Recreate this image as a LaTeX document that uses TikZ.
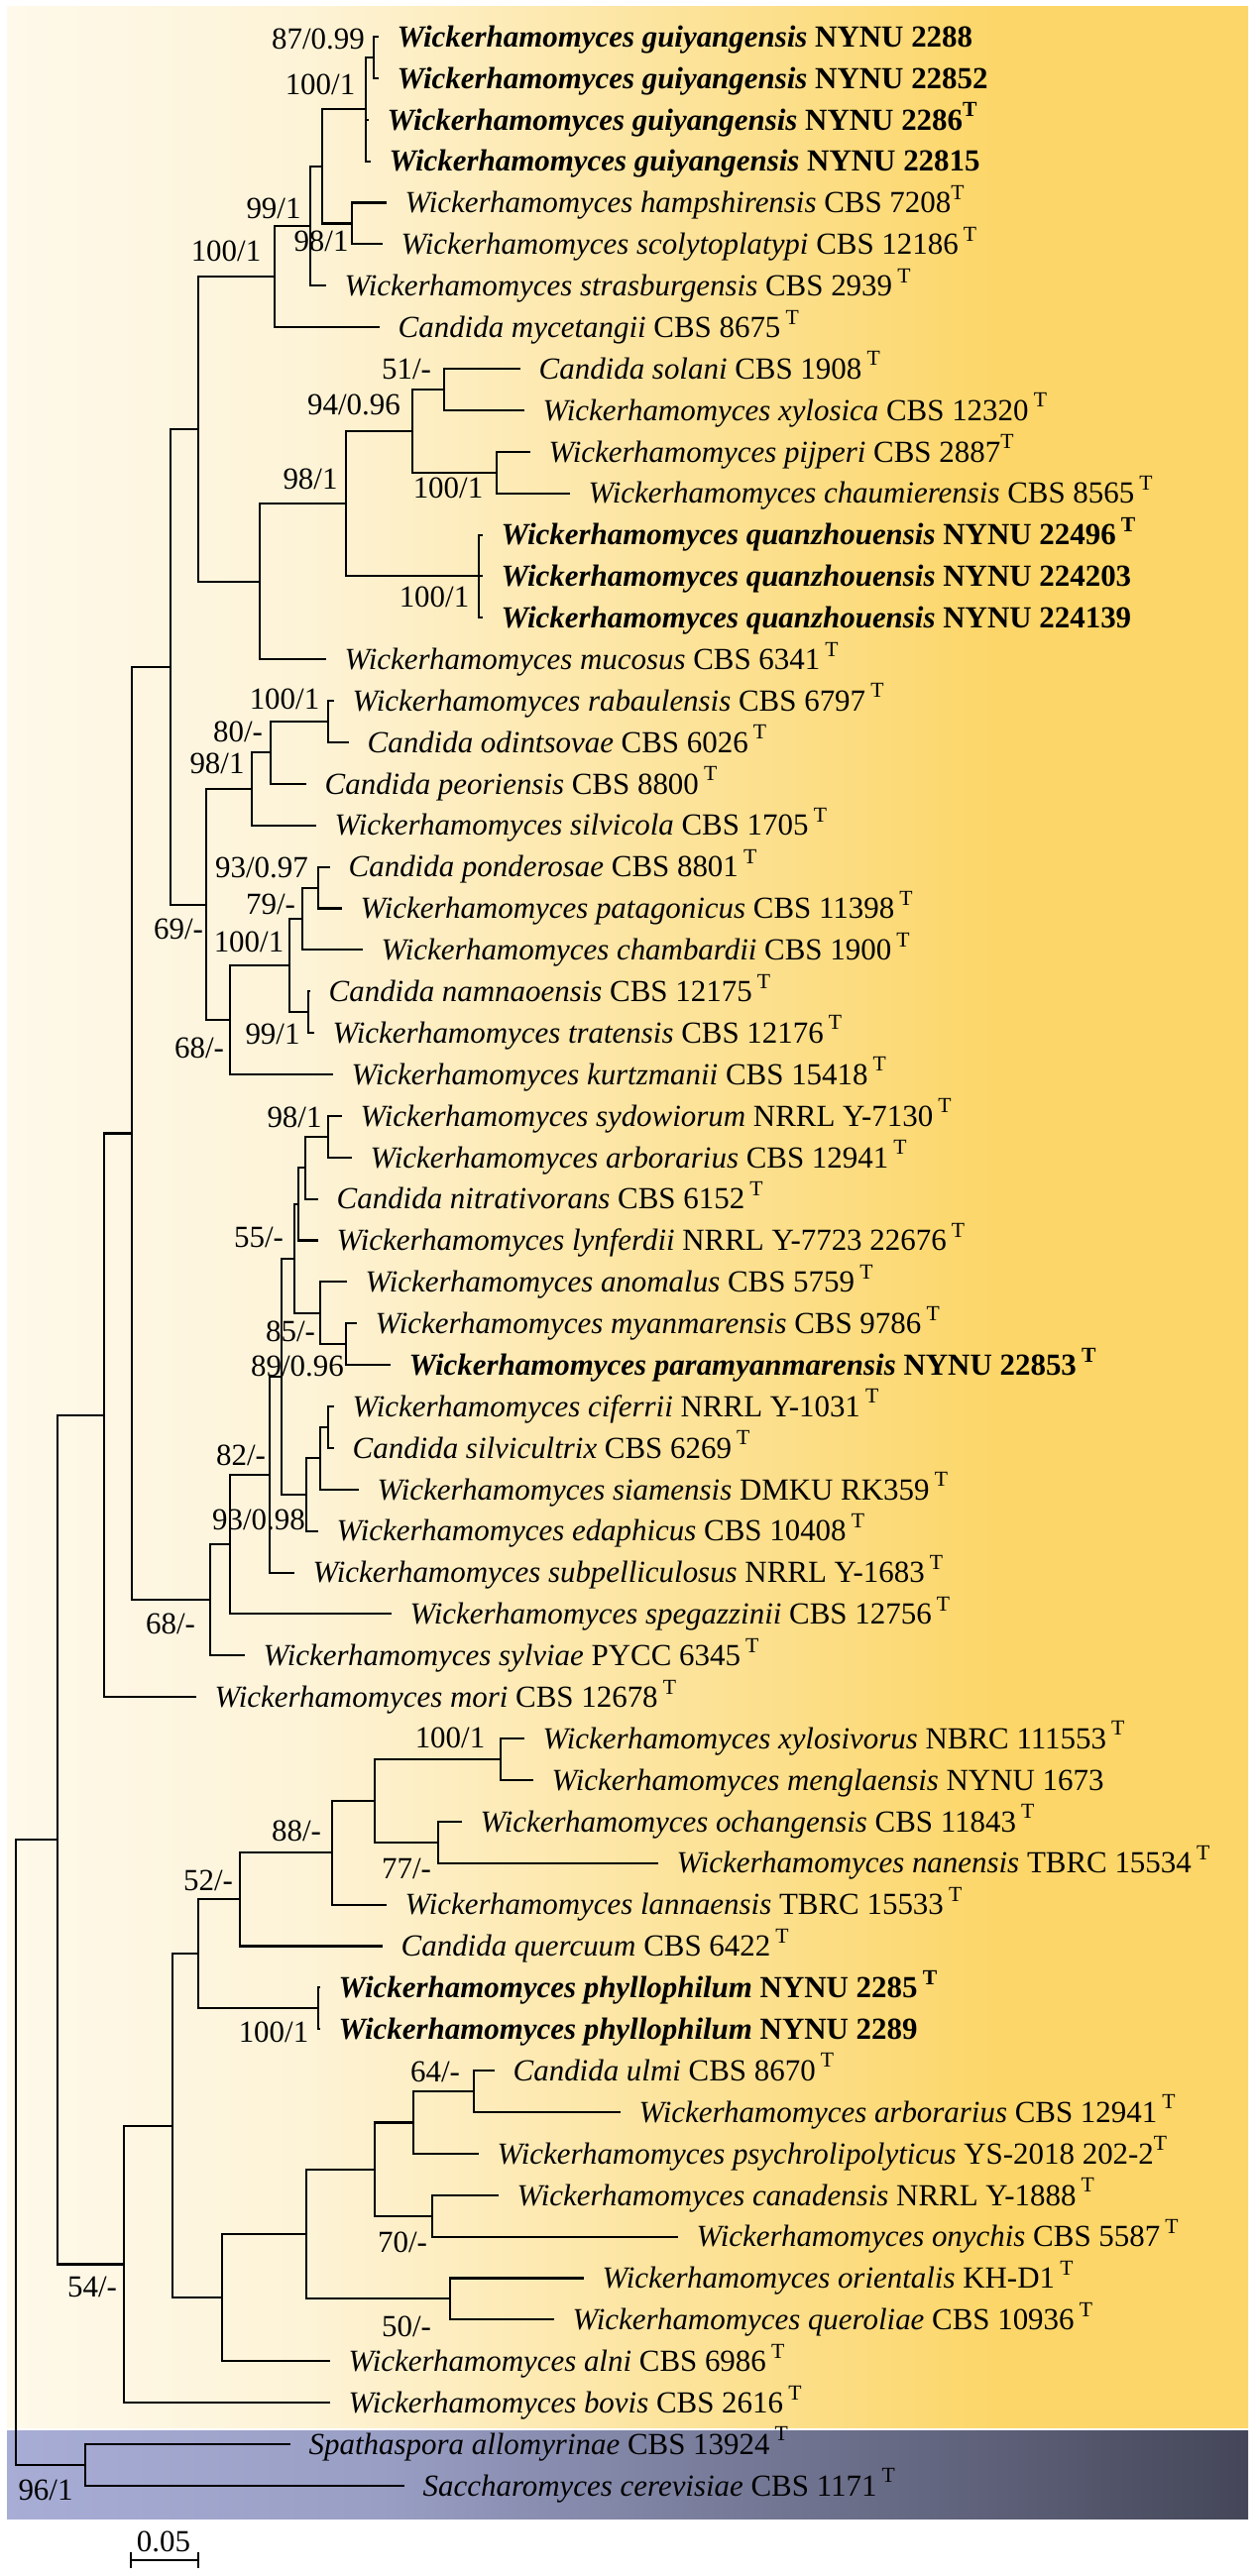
\documentclass[tikz,border=0pt]{standalone}
\usepackage{fontspec}
\setmainfont{Liberation Serif}

% background bands
\pgfdeclarehorizontalshading{yellowband}{100bp}{rgb(0bp)=(0.996,0.976,0.918); rgb(25bp)=(0.996,0.976,0.918); rgb(37bp)=(0.992,0.953,0.843); rgb(65bp)=(0.988,0.839,0.408); rgb(100bp)=(0.988,0.839,0.408)}
\pgfdeclarehorizontalshading{purpleband}{100bp}{rgb(0bp)=(0.659,0.678,0.839); rgb(25bp)=(0.659,0.678,0.839); rgb(40bp)=(0.600,0.620,0.770); rgb(75bp)=(0.267,0.275,0.345); rgb(100bp)=(0.267,0.275,0.345)}

\newcommand{\Wick}[1]{\textit{Wickerhamomyces #1}}
\newcommand{\Cand}[1]{\textit{Candida #1}}
\newcommand{\typeT}{\,\textsuperscript{T}}

\begin{document}
\begin{tikzpicture}[x=0.1mm, y=-0.1mm,
  font=\fontsize{8.8pt}{10pt}\selectfont,
  leaf/.style={anchor=west, inner xsep=1.8mm, inner ysep=0pt, text height=2.05mm, text depth=0pt},
  newleaf/.style={leaf, font=\fontsize{8.8pt}{10pt}\selectfont\bfseries},
  supp/.style={inner sep=0pt, text height=2.05mm, text depth=0pt},
  branch/.style={line width=0.6pt}]
  \useasboundingbox (0,0) rectangle (1266,2599);

  % Draw the bands
  \shade[shading=yellowband] (7,7) rectangle (1259,2449);
  \shade[shading=purpleband] (7,2452) rectangle (1259,2541);

  % Tips
  \node[newleaf] (l1) at (382,37) {\Wick{guiyangensis} NYNU 2288};
  \node[newleaf] (l2) at (382,78.9) {\Wick{guiyangensis} NYNU 22852};
  \node[newleaf] (l3) at (372,120.8) {\Wick{guiyangensis} NYNU 2286\textsuperscript{T}};
  \node[newleaf] (l4) at (374,162.6) {\Wick{guiyangensis} NYNU 22815};
  \node[leaf] (l5) at (390,204.5) {\Wick{hampshirensis} CBS 7208\textsuperscript{T}};
  \node[leaf] (l6) at (386,246.4) {\Wick{scolytoplatypi} CBS 12186\typeT};
  \node[leaf] (l7) at (329,288.3) {\Wick{strasburgensis} CBS 2939\typeT};
  \node[leaf] (l8) at (383,330.2) {\Cand{mycetangii} CBS 8675\typeT};
  \node[leaf] (l9) at (525,372.0) {\Cand{solani} CBS 1908\typeT};
  \node[leaf] (l10) at (529,413.9) {\Wick{xylosica} CBS 12320\typeT};
  \node[leaf] (l11) at (535,455.8) {\Wick{pijperi} CBS 2887\textsuperscript{T}};
  \node[leaf] (l12) at (575,497.7) {\Wick{chaumierensis} CBS 8565\typeT};
  \node[newleaf] (l13) at (487,539.6) {\Wick{quanzhouensis} NYNU 22496\typeT};
  \node[newleaf] (l14) at (487,581.4) {\Wick{quanzhouensis} NYNU 224203};
  \node[newleaf] (l15) at (487,623.3) {\Wick{quanzhouensis} NYNU 224139};
  \node[leaf] (l16) at (329,665.2) {\Wick{mucosus} CBS 6341\typeT};
  \node[leaf] (l17) at (337,707.1) {\Wick{rabaulensis} CBS 6797\typeT};
  \node[leaf] (l18) at (352,749.0) {\Cand{odintsovae} CBS 6026\typeT};
  \node[leaf] (l19) at (309,790.8) {\Cand{peoriensis} CBS 8800\typeT};
  \node[leaf] (l20) at (319,832.7) {\Wick{silvicola} CBS 1705\typeT};
  \node[leaf] (l21) at (333,874.6) {\Cand{ponderosae} CBS 8801\typeT};
  \node[leaf] (l22) at (345,916.5) {\Wick{patagonicus} CBS 11398\typeT};
  \node[leaf] (l23) at (366,958.4) {\Wick{chambardii} CBS 1900\typeT};
  \node[leaf] (l24) at (313,1000.2) {\Cand{namnaoensis} CBS 12175\typeT};
  \node[leaf] (l25) at (317,1042.1) {\Wick{tratensis} CBS 12176\typeT};
  \node[leaf] (l26) at (336,1084.0) {\Wick{kurtzmanii} CBS 15418\typeT};
  \node[leaf] (l27) at (345,1125.9) {\Wick{sydowiorum} NRRL Y-7130\typeT};
  \node[leaf] (l28) at (355,1167.8) {\Wick{arborarius} CBS 12941\typeT};
  \node[leaf] (l29) at (321,1209.6) {\Cand{nitrativorans} CBS 6152\typeT};
  \node[leaf] (l30) at (321,1251.5) {\Wick{lynferdii} NRRL Y-7723 22676\typeT};
  \node[leaf] (l31) at (350,1293.4) {\Wick{anomalus} CBS 5759\typeT};
  \node[leaf] (l32) at (360,1335.3) {\Wick{myanmarensis} CBS 9786\typeT};
  \node[newleaf] (l33) at (394,1377.2) {\Wick{paramyanmarensis} NYNU 22853\typeT};
  \node[leaf] (l34) at (337,1419.0) {\Wick{ciferrii} NRRL Y-1031\typeT};
  \node[leaf] (l35) at (337,1460.9) {\Cand{silvicultrix} CBS 6269\typeT};
  \node[leaf] (l36) at (362,1502.8) {\Wick{siamensis} DMKU RK359\typeT};
  \node[leaf] (l37) at (321,1544.7) {\Wick{edaphicus} CBS 10408\typeT};
  \node[leaf] (l38) at (297,1586.6) {\Wick{subpelliculosus} NRRL Y-1683\typeT};
  \node[leaf] (l39) at (395,1628.4) {\Wick{spegazzinii} CBS 12756\typeT};
  \node[leaf] (l40) at (247,1670.3) {\Wick{sylviae} PYCC 6345\typeT};
  \node[leaf] (l41) at (198,1712.2) {\Wick{mori} CBS 12678\typeT};
  \node[leaf] (l42) at (529,1754.1) {\Wick{xylosivorus} NBRC 111553\typeT};
  \node[leaf] (l43) at (538,1796.0) {\Wick{menglaensis} NYNU 1673};
  \node[leaf] (l44) at (466,1837.8) {\Wick{ochangensis} CBS 11843\typeT};
  \node[leaf] (l45) at (664,1879.7) {\Wick{nanensis} TBRC 15534\typeT};
  \node[leaf] (l46) at (390,1921.6) {\Wick{lannaensis} TBRC 15533\typeT};
  \node[leaf] (l47) at (386,1963.5) {\Cand{quercuum} CBS 6422\typeT};
  \node[newleaf] (l48) at (323,2005.4) {\Wick{phyllophilum} NYNU 2285\typeT};
  \node[newleaf] (l49) at (323,2047.2) {\Wick{phyllophilum} NYNU 2289};
  \node[leaf] (l50) at (499,2089.1) {\Cand{ulmi} CBS 8670\typeT};
  \node[leaf] (l51) at (626,2131.0) {\Wick{arborarius} CBS 12941\typeT};
  \node[leaf] (l52) at (483,2172.9) {\Wick{psychrolipolyticus} YS-2018 202-2\textsuperscript{T}};
  \node[leaf] (l53) at (503,2214.8) {\Wick{canadensis} NRRL Y-1888\typeT};
  \node[leaf] (l54) at (684,2256.6) {\Wick{onychis} CBS 5587\typeT};
  \node[leaf] (l55) at (589,2298.5) {\Wick{orientalis} KH-D1\typeT};
  \node[leaf] (l56) at (559,2340.4) {\Wick{queroliae} CBS 10936\typeT};
  \node[leaf] (l57) at (333,2382.3) {\Wick{alni} CBS 6986\typeT};
  \node[leaf] (l58) at (333,2424.2) {\Wick{bovis} CBS 2616\typeT};
  \node[leaf] (l59) at (293,2466.0) {\textit{Spathaspora allomyrinae} CBS 13924\typeT};
  \node[leaf] (l60) at (408,2507.9) {\textit{Saccharomyces cerevisiae} CBS 1171\typeT};

  % Internal nodes
  \coordinate (nA) at (377,58.0);
  \coordinate (nB) at (369,110.3);
  \coordinate (nC) at (355,225.5);
  \coordinate (nD) at (325,167.9);
  \coordinate (nE) at (313,228.1);
  \coordinate (nF) at (277,279.2);
  \coordinate (nG) at (448,393.0);
  \coordinate (nI) at (501,476.8);
  \coordinate (nH) at (416,434.9);
  \coordinate (nK) at (483,581.4);
  \coordinate (nJ) at (349,508.2);
  \coordinate (nL) at (262,586.7);
  \coordinate (nM) at (200,433.0);
  \coordinate (nS) at (331,728.1);
  \coordinate (nR) at (273,759.4);
  \coordinate (nP) at (254,796.1);
  \coordinate (nW) at (321,895.6);
  \coordinate (nU) at (305,927.0);
  \coordinate (nV) at (311,1021.2);
  \coordinate (nT) at (292,974.1);
  \coordinate (nQ) at (232,1029.0);
  \coordinate (nO) at (208,912.6);
  \coordinate (nN) at (172,672.8);
  \coordinate (nS1) at (331,1146.9);
  \coordinate (nS2) at (308,1178.2);
  \coordinate (nS3) at (301,1214.9);
  \coordinate (nS6) at (349,1356.2);
  \coordinate (nS5) at (323,1324.8);
  \coordinate (nS4) at (297,1269.8);
  \coordinate (nT3) at (331,1440.0);
  \coordinate (nT2) at (323,1471.4);
  \coordinate (nT1) at (309,1508.0);
  \coordinate (n89) at (284,1388.9);
  \coordinate (n82) at (272,1487.7);
  \coordinate (nAC) at (232,1558.1);
  \coordinate (nY) at (212,1614.2);
  \coordinate (nX) at (133,1143.5);
  \coordinate (nZ) at (105,1427.9);
  \coordinate (nAL) at (505,1775.0);
  \coordinate (nAM) at (442,1858.8);
  \coordinate (nAK) at (378,1816.9);
  \coordinate (nAJ) at (335,1869.3);
  \coordinate (nAI) at (242,1916.4);
  \coordinate (nPh) at (321,2026.3);
  \coordinate (nAG) at (200,1971.4);
  \coordinate (nAS) at (478,2110.0);
  \coordinate (nAQ) at (417,2141.5);
  \coordinate (nAR) at (436,2235.7);
  \coordinate (nAO) at (378,2188.6);
  \coordinate (nAP) at (454,2319.4);
  \coordinate (nAN) at (309,2254.0);
  \coordinate (nAH) at (224,2318.2);
  \coordinate (nAF) at (174,2144.8);
  \coordinate (nAB) at (125,2284.5);
  \coordinate (nAA) at (58,1856.2);
  \coordinate (nOG) at (86,2487.0);
  \coordinate (nRoot) at (16,2171.6);

  % Branches
  \draw[branch] (nA) |- (l1.west) (nA) |- (l2.west);
  \draw[branch] (nB) |- (nA) (nB) |- (l3.west) (nB) |- (l4.west);
  \draw[branch] (nC) |- (l5.west) (nC) |- (l6.west);
  \draw[branch] (nD) |- (nB) (nD) |- (nC);
  \draw[branch] (nE) |- (nD) (nE) |- (l7.west);
  \draw[branch] (nF) |- (nE) (nF) |- (l8.west);
  \draw[branch] (nG) |- (l9.west) (nG) |- (l10.west);
  \draw[branch] (nI) |- (l11.west) (nI) |- (l12.west);
  \draw[branch] (nH) |- (nG) (nH) |- (nI);
  \draw[branch] (nK) |- (l13.west) (nK) |- (l14.west) (nK) |- (l15.west);
  \draw[branch] (nJ) |- (nH) (nJ) |- (nK);
  \draw[branch] (nL) |- (nJ) (nL) |- (l16.west);
  \draw[branch] (nM) |- (nF) (nM) |- (nL);
  \draw[branch] (nS) |- (l17.west) (nS) |- (l18.west);
  \draw[branch] (nR) |- (nS) (nR) |- (l19.west);
  \draw[branch] (nP) |- (nR) (nP) |- (l20.west);
  \draw[branch] (nW) |- (l21.west) (nW) |- (l22.west);
  \draw[branch] (nU) |- (nW) (nU) |- (l23.west);
  \draw[branch] (nV) |- (l24.west) (nV) |- (l25.west);
  \draw[branch] (nT) |- (nU) (nT) |- (nV);
  \draw[branch] (nQ) |- (nT) (nQ) |- (l26.west);
  \draw[branch] (nO) |- (nP) (nO) |- (nQ);
  \draw[branch] (nN) |- (nM) (nN) |- (nO);
  \draw[branch] (nS1) |- (l27.west) (nS1) |- (l28.west);
  \draw[branch] (nS2) |- (nS1) (nS2) |- (l29.west);
  \draw[branch] (nS3) |- (nS2) (nS3) |- (l30.west);
  \draw[branch] (nS6) |- (l32.west) (nS6) |- (l33.west);
  \draw[branch] (nS5) |- (l31.west) (nS5) |- (nS6);
  \draw[branch] (nS4) |- (nS3) (nS4) |- (nS5);
  \draw[branch] (nT3) |- (l34.west) (nT3) |- (l35.west);
  \draw[branch] (nT2) |- (nT3) (nT2) |- (l36.west);
  \draw[branch] (nT1) |- (nT2) (nT1) |- (l37.west);
  \draw[branch] (n89) |- (nS4) (n89) |- (nT1);
  \draw[branch] (n82) |- (n89) (n82) |- (l38.west);
  \draw[branch] (nAC) |- (n82) (nAC) |- (l39.west);
  \draw[branch] (nY) |- (nAC) (nY) |- (l40.west);
  \draw[branch] (nX) |- (nN) (nX) |- (nY);
  \draw[branch] (nZ) |- (nX) (nZ) |- (l41.west);
  \draw[branch] (nAL) |- (l42.west) (nAL) |- (l43.west);
  \draw[branch] (nAM) |- (l44.west) (nAM) |- (l45.west);
  \draw[branch] (nAK) |- (nAL) (nAK) |- (nAM);
  \draw[branch] (nAJ) |- (nAK) (nAJ) |- (l46.west);
  \draw[branch] (nAI) |- (nAJ) (nAI) |- (l47.west);
  \draw[branch] (nPh) |- (l48.west) (nPh) |- (l49.west);
  \draw[branch] (nAG) |- (nAI) (nAG) |- (nPh);
  \draw[branch] (nAS) |- (l50.west) (nAS) |- (l51.west);
  \draw[branch] (nAQ) |- (nAS) (nAQ) |- (l52.west);
  \draw[branch] (nAR) |- (l53.west) (nAR) |- (l54.west);
  \draw[branch] (nAO) |- (nAQ) (nAO) |- (nAR);
  \draw[branch] (nAP) |- (l55.west) (nAP) |- (l56.west);
  \draw[branch] (nAN) |- (nAO) (nAN) |- (nAP);
  \draw[branch] (nAH) |- (nAN) (nAH) |- (l57.west);
  \draw[branch] (nAF) |- (nAG) (nAF) |- (nAH);
  \draw[branch] (nAB) |- (nAF) (nAB) |- (l58.west);
  \draw[branch] (nAA) |- (nZ) (nAA) |- (nAB);
  \draw[branch] (nOG) |- (l59.west) (nOG) |- (l60.west);
  \draw[branch] (nRoot) |- (nAA) (nRoot) |- (nOG);

  % Support values
  \node[supp] (b1) at (321,39) {87/0.99};
  \node[supp] (b2) at (323,85) {100/1};
  \node[supp] (b3) at (276,210) {99/1};
  \node[supp] (b4) at (228,253) {100/1};
  \node[supp] (b5) at (324,243) {98/1};
  \node[supp] (b6) at (410,372) {51/-};
  \node[supp] (b7) at (357,408) {94/0.96};
  \node[supp] (b8) at (313,483) {98/1};
  \node[supp] (b9) at (452,492) {100/1};
  \node[supp] (b10) at (438,602) {100/1};
  \node[supp] (b11) at (287,705) {100/1};
  \node[supp] (b12) at (240,738) {80/-};
  \node[supp] (b13) at (219,770) {98/1};
  \node[supp] (b14) at (264,875) {93/0.97};
  \node[supp] (b15) at (273,912) {79/-};
  \node[supp] (b16) at (180,937) {69/-};
  \node[supp] (b17) at (251,950) {100/1};
  \node[supp] (b18) at (275,1043) {99/1};
  \node[supp] (b19) at (201,1057) {68/-};
  \node[supp] (b20) at (297,1127) {98/1};
  \node[supp] (b21) at (261,1248) {55/-};
  \node[supp] (b22) at (293,1343) {85/-};
  \node[supp] (b23) at (300,1378) {89/0.96};
  \node[supp] (b24) at (243,1468) {82/-};
  \node[supp] (b25) at (261,1533) {93/0.98};
  \node[supp] (b26) at (172,1638) {68/-};
  \node[supp] (b27) at (454,1753) {100/1};
  \node[supp] (b28) at (299,1847) {88/-};
  \node[supp] (b29) at (410,1885) {77/-};
  \node[supp] (b30) at (210,1897) {52/-};
  \node[supp] (b31) at (276,2050) {100/1};
  \node[supp] (b32) at (439,2090) {64/-};
  \node[supp] (b33) at (406,2262) {70/-};
  \node[supp] (b34) at (410,2347) {50/-};
  \node[supp] (b35) at (93,2307) {54/-};
  \node[supp] (b36) at (46,2512) {96/1};

  % Scale bar
  \coordinate (sbL) at (132,2583);
  \coordinate (sbR) at (200,2583);
  \draw[branch] (sbL) -- (sbR);
  \draw[branch] (sbL) ++(0,-8) -- ++(0,16);
  \draw[branch] (sbR) ++(0,-8) -- ++(0,16);
  \node[supp] (sbtext) at (165,2564) {0.05};
\end{tikzpicture}
\end{document}
